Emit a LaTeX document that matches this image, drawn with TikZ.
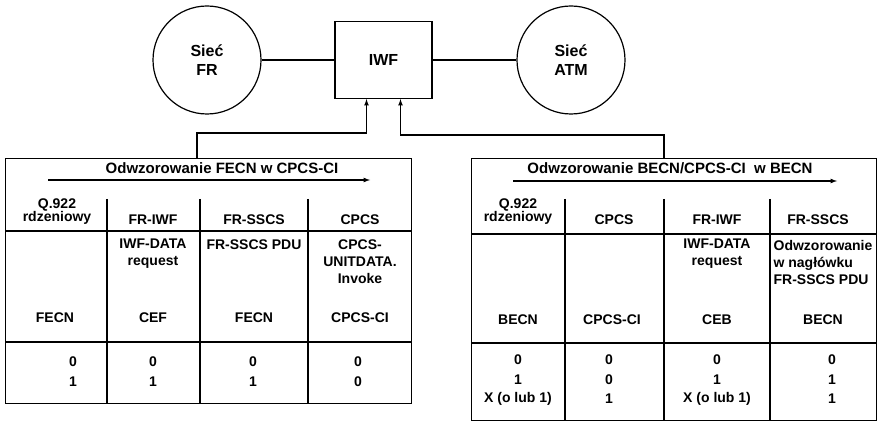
\documentclass[tikz,border=0pt]{standalone}
\usepackage{fontspec}
\setmainfont{Liberation Sans}
\usepackage{tikz}
\usetikzlibrary{positioning}

\begin{document}
\begin{tikzpicture}[x=1pt,y=-1pt,line width=1.2pt,
          net/.style={draw,circle,minimum size=108pt,align=center,font=\fontsize{16}{19}\selectfont\bfseries},
          box/.style={draw,minimum width=97pt,minimum height=77pt,font=\fontsize{16}{19}\selectfont\bfseries},
          frame/.style={draw,inner sep=0pt,anchor=north west},
          cell/.style={inner sep=0pt,align=center,font=\fontsize{14}{17}\selectfont\bfseries},
          title/.style={cell,font=\fontsize{15}{17}\selectfont\bfseries}]
          \useasboundingbox (0,0) rectangle (878,422);
          \node[box](iwf) at (383.5,60){IWF};
          \node[net](fr) at (207,60){Sieć\\FR};
          \node[net](atm) at (571,60){Sieć\\ATM};
          \draw(fr)--(iwf); \draw(iwf)--(atm);
          % tabela FECN
          \node[frame,minimum width=406pt,minimum height=245pt](fecn) at (5,158){};
          \draw[->,>=latex]([xshift=192pt]fecn.north west)--++(0,-25)-|([xshift=-17pt]iwf.south);
          \draw(5,231)--(411,231) (5,342)--(411,342);
          \foreach \x in {107,200,308} \draw(\x,199)--(\x,403);
          \node[title](ftitle) at (222,168){Odwzorowanie FECN w CPCS-CI};
          \coordinate(fa) at (48,180); \coordinate(fb) at (370,180);
          \draw[->,>=latex](fa)--(fb);
          \node[cell](fh1) at (57,212){Q.922\\[-4pt]rdzeniowy};
          \node[cell](fh2) at (153,220){FR-IWF};
          \node[cell](fh3) at (254,220){FR-SSCS};
          \node[cell](fh4) at (360,220){CPCS};
          \node[cell](fd2) at (153,253.5){IWF-DATA\\request};
          \node[cell](fd3) at (254,245){FR-SSCS PDU};
          \node[cell](fd4) at (360,262){CPCS-\\UNITDATA.\\Invoke};
          \node[cell](ff1) at (55,318){FECN};
          \node[cell](ff2) at (153,318){CEF};
          \node[cell](ff3) at (254,318){FECN};
          \node[cell](ff4) at (360,318){CPCS-CI};
          \foreach \x/\a/\b in {73/0/1,153/0/1,253/0/1,358/0/0}{
            \node[cell](fv\x a) at (\x,362){\a};
            \node[cell](fv\x b) at (\x,382){\b};}
          % tabela BECN
          \node[frame,minimum width=405pt,minimum height=262pt](becn) at (471,158){};
          \draw[->,>=latex]([xshift=193pt]becn.north west)--++(0,-23)-|([xshift=17pt]iwf.south);
          \draw(471,234)--(876,234) (471,343)--(876,343);
          \foreach \x in {565,664,770} \draw(\x,199)--(\x,420);
          \node[title](btitle) at (670,168){Odwzorowanie BECN/CPCS-CI\ \ w BECN};
          \coordinate(ba) at (513,181); \coordinate(bb) at (837,181);
          \draw[->,>=latex](ba)--(bb);
          \node[cell](bh1) at (518,212){Q.922\\[-4pt]rdzeniowy};
          \node[cell](bh2) at (614,220){CPCS};
          \node[cell](bh3) at (717,220){FR-IWF};
          \node[cell](bh4) at (818,220){FR-SSCS};
          \node[cell](bd3) at (717,253.5){IWF-DATA\\request};
          \node[cell,align=left,anchor=west](bd4) at (773,262){Odwzorowanie\\w nagłówku\\FR-SSCS PDU};
          \node[cell](bf1) at (518,320){BECN};
          \node[cell](bf2) at (612,320){CPCS-CI};
          \node[cell](bf3) at (717,320){CEB};
          \node[cell](bf4) at (823,320){BECN};
          \foreach \x/\a/\b/\c in {518/0/1/X (o lub 1),609/0/0/1,717/0/1/X (o lub 1),832/0/1/1}{
            \node[cell](bv\x a) at (\x,360){\a};
            \node[cell](bv\x b) at (\x,380){\b};
            \node[cell](bv\x c) at (\x,399){\c};}
        \end{tikzpicture}
\end{document}
